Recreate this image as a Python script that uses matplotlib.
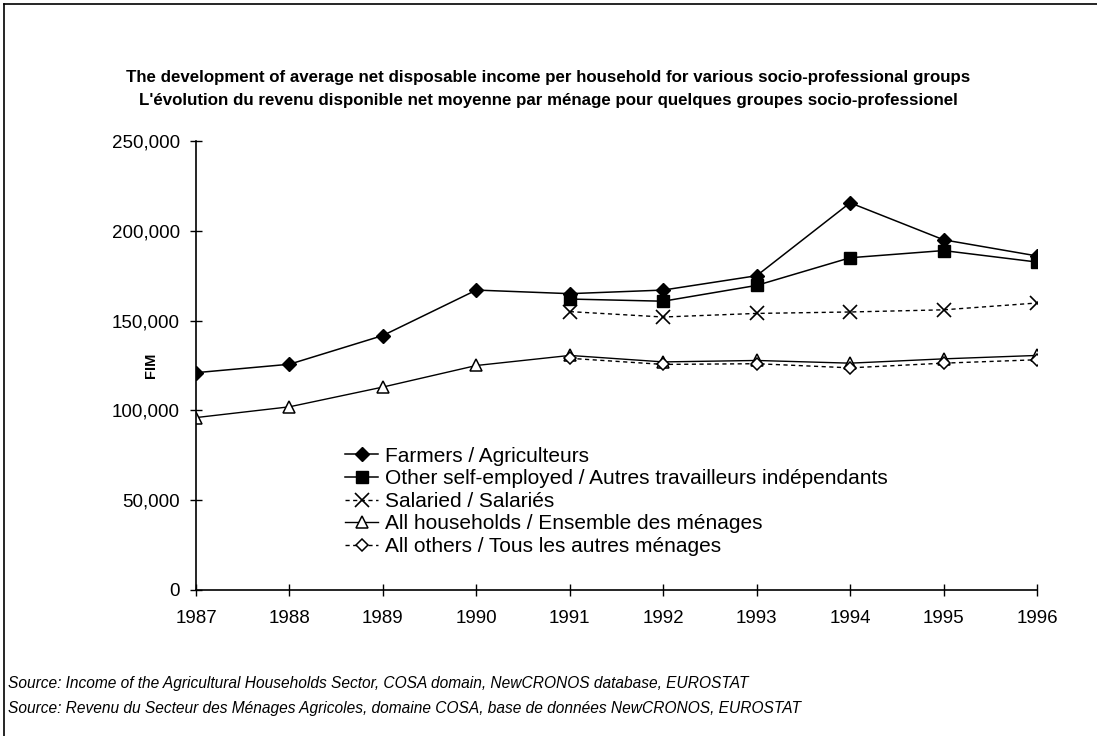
import numpy as np
import matplotlib.pyplot as plt
from matplotlib.lines import Line2D

plt.rcParams['font.family'] = ['Liberation Sans', 'DejaVu Sans']

years = [1987, 1988, 1989, 1990, 1991, 1992, 1993, 1994, 1995, 1996]
years_91 = years[4:]

farmers = [121000, 125700, 141700, 167000, 165000, 167000, 175000, 215600, 195000, 186000]
other_self = [162000, 160800, 169600, 185000, 189000, 182600]
salaried = [155000, 152000, 154000, 154800, 156000, 159800]
all_households = [96000, 102000, 113000, 125000, 130600, 127000, 127800, 126300, 128700, 130600]
all_others = [129000, 125600, 126000, 123700, 126300, 128200]

labels = [
    "Farmers / Agriculteurs",
    "Other self-employed / Autres travailleurs indépendants",
    "Salaried / Salariés",
    "All households / Ensemble des ménages",
    "All others / Tous les autres ménages",
]
yticks = np.arange(0, 250001, 50000)

fig = plt.figure(figsize=(10.97, 7.36), dpi=100)
ax = fig.add_axes([0.1787, 0.1984, 0.7666, 0.61])

ax.plot(years, farmers, color='black', lw=1.1, marker='D', ms=7,
        mfc='black', mec='black', label=labels[0])
ax.plot(years_91, other_self, color='black', lw=1.1, marker='s', ms=9,
        mfc='black', mec='black', label=labels[1])
ax.plot(years_91, salaried, color='black', lw=1.0, ls=(0, (3, 2.5)), marker='x',
        ms=10, mew=1.2, label=labels[2])
ax.plot(years, all_households, color='black', lw=1.0, marker='^', ms=9,
        mfc='white', mec='black', mew=1.1, label=labels[3])
ax.plot(years_91, all_others, color='black', lw=1.0, ls=(0, (3, 2.5)), marker='D',
        ms=6, mfc='white', mec='black', mew=1.1, label=labels[4])

ax.set_xlim(1987, 1996)
ax.set_ylim(0, 250000)
ax.set_xticks(years)
ax.set_yticks(yticks)
ax.set_yticklabels([f"{v:,}" for v in yticks])
ax.tick_params(direction='inout', length=9, width=1, labelsize=13.5)
ax.tick_params(axis='y', pad=7)
ax.tick_params(axis='x', pad=10)
for s in ['top', 'right']:
    ax.spines[s].set_visible(False)
for s in ['left', 'bottom']:
    ax.spines[s].set_linewidth(1.2)

ax.set_ylabel("FIM", fontsize=10.5, fontweight='bold')
ax.yaxis.set_label_coords(-0.045, 0.5)

leg = ax.legend(loc='upper left', bbox_to_anchor=(0.3145, 0.393),
                bbox_transform=fig.transFigure, frameon=False, fontsize=15,
                handlelength=1.6, handletextpad=0.34, labelspacing=0.17,
                borderaxespad=0, borderpad=0)

fig.text(0.5, 0.895, "The development of average net disposable income per household for various socio-professional groups",
         ha='center', va='center', fontsize=12.2, fontweight='bold')
fig.text(0.5, 0.864, "L'évolution du revenu disponible net moyenne par ménage pour quelques groupes socio-professionel",
         ha='center', va='center', fontsize=12.2, fontweight='bold')

fig.text(0.007, 0.071, "Source: Income of the Agricultural Households Sector, COSA domain, NewCRONOS database, EUROSTAT",
         ha='left', va='center', fontsize=11.2, style='italic')
fig.text(0.007, 0.038, "Source: Revenu du Secteur des Ménages Agricoles, domaine COSA, base de données NewCRONOS, EUROSTAT",
         ha='left', va='center', fontsize=11.2, style='italic')

# frame lines along the top and left edge of the page
fig.add_artist(Line2D([0.004, 1.0], [0.994, 0.994], transform=fig.transFigure, color='black', lw=1.2))
fig.add_artist(Line2D([0.004, 0.004], [0.0, 0.994], transform=fig.transFigure, color='black', lw=1.2))

fig.savefig("out.png", dpi=100)
